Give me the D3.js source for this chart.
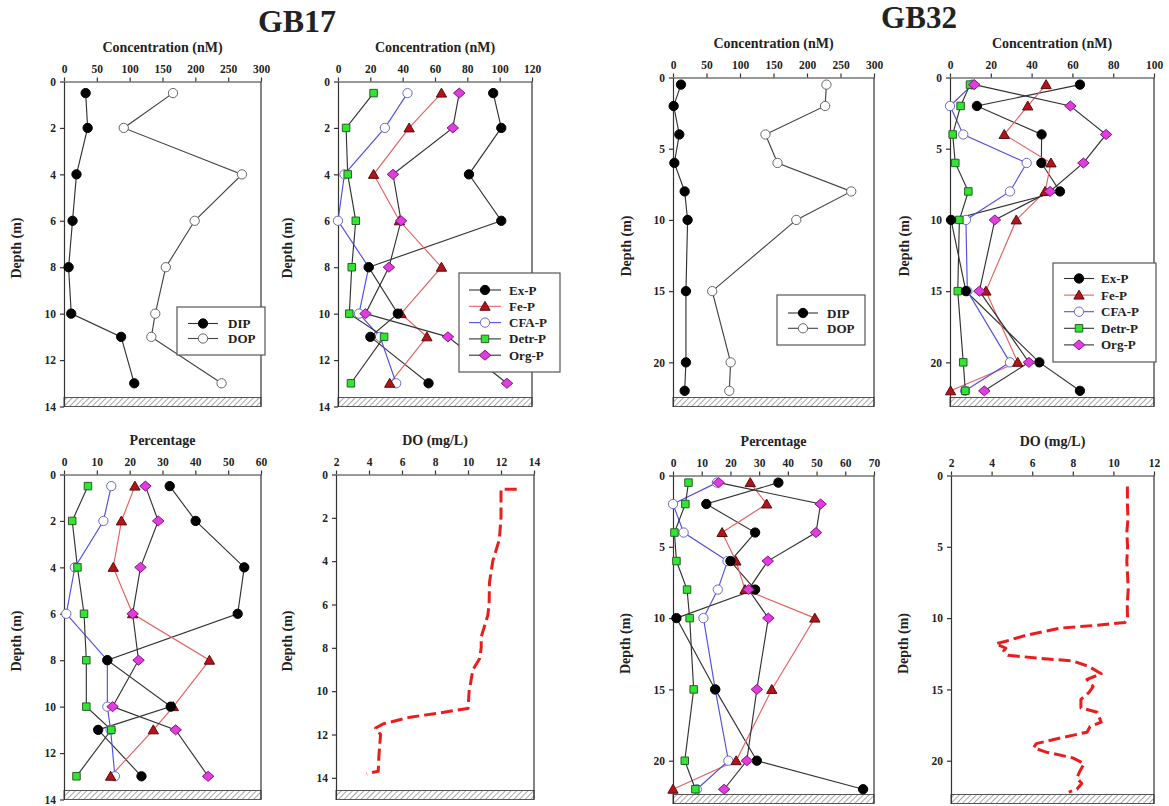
<!DOCTYPE html>
<html><head><meta charset="utf-8">
<script src="https://cdn.jsdelivr.net/npm/d3@7"></script>
<style>
body{margin:0;background:#fff}
svg{display:block}
text{font-family:"Liberation Serif","Times New Roman",serif;font-weight:bold;fill:#222}
</style>
</head><body>
<svg id="c" width="1169" height="806"></svg>
<script>
// ---------------- DATA ----------------
const depthGB17 = [0.5, 2, 4, 6, 8, 10, 11, 13];
const depthGB32 = [0.5, 2, 4, 6, 8, 10, 15, 20, 22];

// GB17 dissolved P (nM)
const GB17_DIP = [33, 36, 19, 13, 7, 11, 87, 107];
const GB17_DOP = [166, 91, 271, 199, 155, 139, 133, 240];
// GB17 sediment P fractions (nM)
const GB17_ExP = [96, 101, 81, 101, 19, 37, 20, 56];
const GB17_FeP = [64, 44, 22, 38, 64, 39, 55, 32];
const GB17_CFAP = [43, 29, 4, 0, 19, 13, 26, 36];
const GB17_DetrP = [22, 5, 6, 11, 8.5, 7, 28.5, 8];
const GB17_OrgP = [75, 71, 34, 39, 31.5, 17, 68, 104.5];
// GB17 percentages
const GB17_pExP = [32.2, 40.1, 54.9, 52.9, 13.2, 32.5, 10.4, 23.6];
const GB17_pFeP = [21.6, 17.5, 15, 20.9, 44.3, 33.3, 27.2, 14.2];
const GB17_pCFAP = [14.4, 12, 3.3, 0.7, 13.2, 13.2, 14.2, 15.5];
const GB17_pDetrP = [7.3, 2.5, 4.1, 6.1, 6.8, 6.8, 14.4, 3.8];
const GB17_pOrgP = [24.8, 28.7, 23.3, 20.9, 22.7, 14.8, 34, 43.9];
// GB17 DO profile
const GB17_DOdepth = [0.68, 0.68, 1.0, 2, 3, 4, 5, 6, 6.5, 7, 7.5, 8, 8.5, 9, 10, 10.8, 11, 11.2, 11.5, 11.7, 12, 13, 13.7, 13.8];
const GB17_DO = [12.95, 12.0, 12.0, 12.0, 11.9, 11.5, 11.3, 11.28, 11.2, 11.0, 10.8, 10.8, 10.7, 10.3, 10.07, 10.0, 8.3, 6.5, 4.9, 4.4, 4.7, 4.6, 4.56, 3.86];

// GB32 dissolved P (nM)
const GB32_DIP = [11.9, 1, 9.4, 2, 17.4, 21.8, 19.3, 19.3, 17.4];
const GB32_DOP = [229, 227, 138, 156, 266, 184, 58.5, 86, 84];
// GB32 sediment P fractions (nM)
const GB32_ExP = [63.7, 13.2, 44.9, 44.8, 53.9, 0.5, 7.8, 43.8, 63.7];
const GB32_FeP = [47.1, 38.1, 26.6, 49.5, 46.6, 32.5, 17.6, 33.2, 0.3];
const GB32_CFAP = [11, 0, 6.5, 37.6, 29.4, 7.8, 8.5, 29.4, 7.4];
const GB32_DetrP = [9.8, 5.2, 1.3, 2.6, 9, 4.6, 3.8, 6.5, 7.5];
const GB32_OrgP = [11.9, 59, 76.5, 65.4, 49, 22, 14.4, 38.7, 16.8];
// GB32 percentages
const GB32_pExP = [36.7, 11.6, 28.6, 20, 28.6, 1.2, 14.7, 29.2, 66.2];
const GB32_pFeP = [26.9, 32.6, 17.1, 21.9, 25.1, 49.4, 34.4, 22, 0];
const GB32_pCFAP = [15.3, 0, 3.7, 19, 15.6, 10.6, 14.7, 19.3, 8.3];
const GB32_pDetrP = [5.4, 4.3, 0.5, 1.2, 4.9, 5.8, 7.2, 4.1, 7.8];
const GB32_pOrgP = [15.9, 51.4, 49.8, 33, 26.3, 33.2, 29.2, 25.7, 17.8];
// GB32 DO profile
const GB32_DOdepth = [0.77, 2, 3, 4, 5, 6, 7, 8, 9, 10.1, 10.3, 10.5, 10.7, 11.2, 11.6, 11.8, 12.1, 12.3, 12.6, 12.8, 13, 13.4, 13.9, 14.3, 14.8, 15.2, 15.7, 16.3, 16.6, 17.3, 17.6, 18, 18.4, 18.8, 19.1, 19.4, 19.8, 20.2, 20.7, 21.2, 21.6, 22, 22.2];
const GB32_DO = [10.69, 10.69, 10.72, 10.66, 10.7, 10.66, 10.7, 10.73, 10.68, 10.7, 10.57, 9.2, 7.4, 5.7, 4.75, 4.2, 4.7, 4.6, 4.8, 6.2, 8.0, 8.8, 9.4, 8.7, 9.0, 8.8, 8.4, 8.4, 9.2, 9.4, 8.85, 8.7, 7.4, 6.2, 6.07, 6.7, 8.0, 8.56, 8.36, 8.2, 8.44, 8.2, 7.8];

// tick labels
const ticksConc300 = [0, 50, 100, 150, 200, 250, 300];
const ticksConc120 = [0, 20, 40, 60, 80, 100, 120];
const ticksConc100 = [0, 20, 40, 60, 80, 100];
const ticksPct60 = [0, 10, 20, 30, 40, 50, 60];
const ticksPct70 = [0, 10, 20, 30, 40, 50, 60, 70];
const ticksDO14 = [2, 4, 6, 8, 10, 12, 14];
const ticksDO12 = [2, 4, 6, 8, 10, 12];
const ticksDepth14 = [0, 2, 4, 6, 8, 10, 12, 14];
const ticksDepth20 = [0, 5, 10, 15, 20];

const dissolvedNames = ["DIP", "DOP"];
const fractionNames = ["Ex-P", "Fe-P", "CFA-P", "Detr-P", "Org-P"];

// ---------------- STYLE ----------------
// wide diamond symbol (rotated square, slightly wider than tall)
const wideDiamond = {
  draw(ctx, size) {
    const h = Math.sqrt(size / 2);
    const w = h * 1.15;
    ctx.moveTo(-w, 0); ctx.lineTo(0, -h); ctx.lineTo(w, 0); ctx.lineTo(0, h); ctx.closePath();
  }
};
const STY = {
  "DIP":    {sym: d3.symbolCircle,   size: 68, fill: "#000", stroke: "#000", line: "#333"},
  "DOP":    {sym: d3.symbolCircle,   size: 68, fill: "#fff", stroke: "#666", line: "#444"},
  "Ex-P":   {sym: d3.symbolCircle,   size: 68, fill: "#000", stroke: "#000", line: "#333"},
  "Fe-P":   {sym: d3.symbolTriangle, size: 46, fill: "#b3141b", stroke: "#5a0a0a", line: "#e56060"},
  "CFA-P":  {sym: d3.symbolCircle,   size: 68, fill: "#fff", stroke: "#6b6bc8", line: "#5050e0"},
  "Detr-P": {sym: d3.symbolSquare,   size: 56, fill: "#2ee82e", stroke: "#2d5a2d", line: "#333"},
  "Org-P":  {sym: wideDiamond,       size: 50, fill: "#e23be2", stroke: "#7a1a7a", line: "#333"}
};
const drawOrder = ["CFA-P", "Fe-P", "Detr-P", "Ex-P", "Org-P"];

const svg = d3.select("#c");
const defs = svg.append("defs");
const pat = defs.append("pattern").attr("id", "hatch").attr("patternUnits", "userSpaceOnUse")
  .attr("width", 4).attr("height", 4).attr("patternTransform", "rotate(45)");
pat.append("rect").attr("width", 4).attr("height", 4).attr("fill", "#fff");
pat.append("line").attr("x1", 0).attr("y1", 0).attr("x2", 0).attr("y2", 4).attr("stroke", "#777").attr("stroke-width", 1.3);

// titles
svg.append("text").attr("x", 297).attr("y", 32).attr("text-anchor", "middle").attr("font-size", 32).text("GB17");
svg.append("text").attr("x", 919).attr("y", 28).attr("text-anchor", "middle").attr("font-size", 31).text("GB32");

function panel(c) {
  const g = svg.append("g");
  const x = d3.scaleLinear().domain(c.xd).range([c.x0, c.x1]);
  const y = d3.scaleLinear().domain(c.yd).range([c.y0, c.y1]);
  // hatch (sediment)
  g.append("rect").attr("x", c.x0).attr("y", c.y1 - 9).attr("width", c.x1 - c.x0).attr("height", 9)
    .attr("fill", "url(#hatch)").attr("stroke", "#555").attr("stroke-width", 1);
  // right border
  g.append("line").attr("x1", c.x1).attr("x2", c.x1).attr("y1", c.y0).attr("y2", c.y1)
    .attr("stroke", "#333").attr("stroke-width", 1.2);
  // axes
  const xa = g.append("g").attr("transform", `translate(0,${c.y0})`)
    .call(d3.axisTop(x).tickValues(c.xt).tickSize(4).tickSizeOuter(0).tickPadding(5));
  const ya = g.append("g").attr("transform", `translate(${c.x0},0)`)
    .call(d3.axisLeft(y).tickValues(c.yt).tickSize(4).tickSizeOuter(0).tickPadding(4));
  [xa, ya].forEach(a => {
    a.selectAll("path,line").attr("stroke", "#333").attr("stroke-width", 1.2);
    a.selectAll("text").attr("font-size", 11.5).attr("font-family", "Liberation Serif, serif")
      .attr("font-weight", "bold").attr("fill", "#222");
  });
  // axis titles
  g.append("text").attr("x", (c.x0 + c.x1) / 2).attr("y", c.y0 - 30).attr("text-anchor", "middle")
    .attr("font-size", 14).text(c.xtitle);
  g.append("text").attr("transform", `translate(${c.ylx},${(c.y0 + c.y1) / 2 + 4}) rotate(-90)`)
    .attr("text-anchor", "middle").attr("font-size", 14).text("Depth (m)");
  return {g, x, y};
}

function profiles(p, depths, series) {
  const line = d3.line().x(d => p.x(d[0])).y(d => p.y(d[1]));
  series.forEach(s => {
    const pts = s.vals.map((v, i) => [v, depths[i]]);
    p.g.append("path").attr("d", line(pts)).attr("fill", "none")
      .attr("stroke", STY[s.name].line).attr("stroke-width", 1.15);
  });
  const order = series.slice().sort((a, b) => drawOrder.indexOf(a.name) - drawOrder.indexOf(b.name));
  order.forEach(s => {
    const st = STY[s.name];
    const sym = d3.symbol().type(st.sym).size(st.size);
    p.g.selectAll(null).data(s.vals.map((v, i) => [v, depths[i]])).join("path")
      .attr("d", sym)
      .attr("transform", d => `translate(${p.x(d[0])},${p.y(d[1]) + (st.sym === d3.symbolTriangle ? 1 : 0)})`)
      .attr("fill", st.fill).attr("stroke", st.stroke).attr("stroke-width", 1);
  });
}

function legend(bx, by, bw, bh, names, rowY0, dy, lx0, lx1, tx) {
  const g = svg.append("g");
  g.append("rect").attr("x", bx).attr("y", by).attr("width", bw).attr("height", bh)
    .attr("fill", "#fff").attr("stroke", "#555").attr("stroke-width", 1.2);
  names.forEach((n, i) => {
    const yy = rowY0 + i * dy;
    const st = STY[n];
    g.append("line").attr("x1", lx0).attr("x2", lx1).attr("y1", yy).attr("y2", yy)
      .attr("stroke", st.line).attr("stroke-width", 1.1);
    g.append("path").attr("d", d3.symbol().type(st.sym).size(st.size)())
      .attr("transform", `translate(${(lx0 + lx1) / 2},${yy + (st.sym === d3.symbolTriangle ? 1 : 0)})`)
      .attr("fill", st.fill).attr("stroke", st.stroke).attr("stroke-width", 1);
    g.append("text").attr("x", tx).attr("y", yy + 4.5).attr("font-size", 13).attr("fill", "#333").text(n);
  });
}

function doLine(p, depths, vals) {
  const line = d3.line().x(d => p.x(d[0])).y(d => p.y(d[1])).curve(d3.curveLinear);
  p.g.append("path").attr("d", line(vals.map((v, i) => [v, depths[i]])))
    .attr("fill", "none").attr("stroke", "#ec1c1c").attr("stroke-width", 3)
    .attr("stroke-dasharray", "12,5").attr("stroke-linejoin", "round");
}

// ---------------- PANELS ----------------
const p1 = panel({x0: 64, x1: 261, y0: 81.5, y1: 406.5, xd: [0, 300], yd: [0, 14], xt: ticksConc300, yt: ticksDepth14, xtitle: "Concentration (nM)", ylx: 21});
profiles(p1, depthGB17, [{name: "DIP", vals: GB17_DIP}, {name: "DOP", vals: GB17_DOP}]);
legend(177, 307, 88, 48, dissolvedNames, 323.5, 15, 188, 218, 228);

const p2 = panel({x0: 338, x1: 532, y0: 81.5, y1: 406.5, xd: [0, 120], yd: [0, 14], xt: ticksConc120, yt: ticksDepth14, xtitle: "Concentration (nM)", ylx: 292});
profiles(p2, depthGB17, [
  {name: "Ex-P", vals: GB17_ExP}, {name: "Fe-P", vals: GB17_FeP}, {name: "CFA-P", vals: GB17_CFAP},
  {name: "Detr-P", vals: GB17_DetrP}, {name: "Org-P", vals: GB17_OrgP}]);
legend(459, 273, 101, 99, fractionNames, 290, 16.3, 469, 501, 509);

const p3 = panel({x0: 64, x1: 261, y0: 474.5, y1: 799.5, xd: [0, 60], yd: [0, 14], xt: ticksPct60, yt: ticksDepth14, xtitle: "Percentage", ylx: 21});
profiles(p3, depthGB17, [
  {name: "Ex-P", vals: GB17_pExP}, {name: "Fe-P", vals: GB17_pFeP}, {name: "CFA-P", vals: GB17_pCFAP},
  {name: "Detr-P", vals: GB17_pDetrP}, {name: "Org-P", vals: GB17_pOrgP}]);

const p4 = panel({x0: 336, x1: 534, y0: 474.5, y1: 799.5, xd: [2, 14], yd: [0, 15], xt: ticksDO14, yt: ticksDepth14, xtitle: "DO (mg/L)", ylx: 292});
doLine(p4, GB17_DOdepth, GB17_DO);

const p5 = panel({x0: 673, x1: 874, y0: 77.5, y1: 406.5, xd: [0, 300], yd: [0, 23.1], xt: ticksConc300, yt: ticksDepth20, xtitle: "Concentration (nM)", ylx: 631});
profiles(p5, depthGB32, [{name: "DIP", vals: GB32_DIP}, {name: "DOP", vals: GB32_DOP}]);
legend(777, 295, 88, 50, dissolvedNames, 313, 15.3, 788, 818, 827);

const p6 = panel({x0: 950, x1: 1154, y0: 77.5, y1: 406.5, xd: [0, 100], yd: [0, 23.1], xt: ticksConc100, yt: ticksDepth20, xtitle: "Concentration (nM)", ylx: 909});
profiles(p6, depthGB32, [
  {name: "Ex-P", vals: GB32_ExP}, {name: "Fe-P", vals: GB32_FeP}, {name: "CFA-P", vals: GB32_CFAP},
  {name: "Detr-P", vals: GB32_DetrP}, {name: "Org-P", vals: GB32_OrgP}]);
legend(1053, 263, 103, 99, fractionNames, 278.5, 16.6, 1064, 1094, 1101);

const p7 = panel({x0: 673, x1: 874, y0: 475.5, y1: 803.5, xd: [0, 70], yd: [0, 23], xt: ticksPct70, yt: ticksDepth20, xtitle: "Percentage", ylx: 630});
profiles(p7, depthGB32, [
  {name: "Ex-P", vals: GB32_pExP}, {name: "Fe-P", vals: GB32_pFeP}, {name: "CFA-P", vals: GB32_pCFAP},
  {name: "Detr-P", vals: GB32_pDetrP}, {name: "Org-P", vals: GB32_pOrgP}]);

const p8 = panel({x0: 951, x1: 1154, y0: 475.5, y1: 803.5, xd: [2, 12], yd: [0, 23], xt: ticksDO12, yt: ticksDepth20, xtitle: "DO (mg/L)", ylx: 908});
doLine(p8, GB32_DOdepth, GB32_DO);
</script>
</body></html>
